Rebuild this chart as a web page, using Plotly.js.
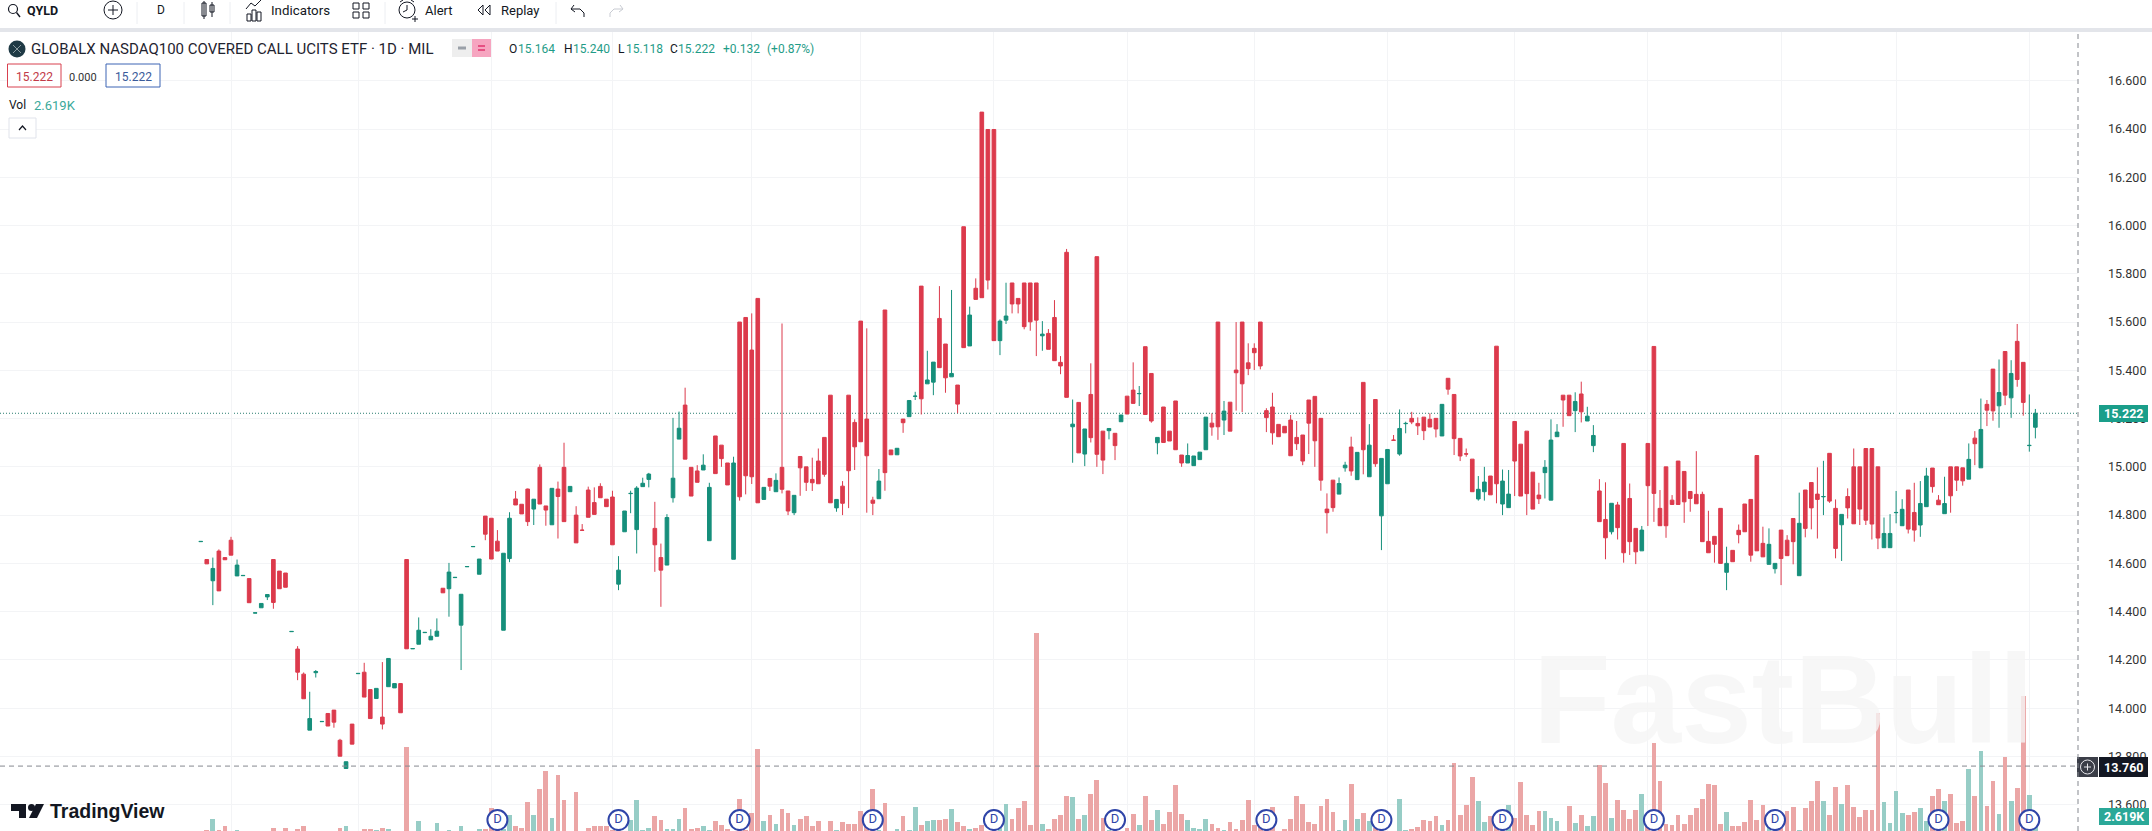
<!DOCTYPE html>
<html><head><meta charset="utf-8">
<script src="https://cdn.plot.ly/plotly-3.0.1.min.js"></script>
<style>html,body{margin:0;padding:0;background:#fff;overflow:hidden}#c{width:2152px;height:831px}</style>
</head><body><div id="c"></div>
<script>
const open_ = [
14.690,14.616,14.528,14.651,14.624,14.696,14.548,14.549,14.537,14.394,
14.416,14.461,14.616,14.568,14.56,14.317,14.245,14.141,13.909,14.147,
13.944,13.978,13.992,13.867,13.75,13.934,14.143,14.149,14.077,14.04,
13.963,14.089,14.084,14.102,14.616,14.246,14.265,14.313,14.283,14.298,
14.497,14.495,14.541,14.344,14.586,14.669,14.555,14.796,14.787,14.692,
14.323,14.62,14.867,14.845,14.908,14.825,14.998,14.838,14.76,14.908,
14.998,14.897,14.8,14.738,14.904,14.852,14.919,14.866,14.875,14.514,
14.731,14.889,14.74,14.918,14.948,14.745,14.624,14.593,14.872,15.115,
15.256,14.998,14.983,14.987,14.694,15.128,15.09,15.016,14.617,15.6,
15.619,15.484,15.698,14.865,14.952,14.897,14.998,14.9,14.81,15.043,
15.0,14.948,15.024,15.122,15.297,14.83,14.92,15.297,15.184,15.604,
15.198,14.862,14.868,15.65,15.07,15.05,15.198,15.208,15.292,15.749,
15.344,15.351,15.615,15.509,15.373,15.339,15.995,15.501,15.74,16.47,
16.398,16.398,15.523,15.608,15.762,15.698,15.762,15.762,15.762,15.543,
15.553,15.619,15.433,15.889,15.166,15.267,15.053,15.3,15.871,15.148,
15.15,15.139,15.187,15.293,15.318,15.303,15.498,15.387,15.1,15.248,
15.148,15.273,15.049,15.016,15.005,15.03,15.071,15.181,15.6,15.194,
15.268,15.401,15.6,15.431,15.491,15.6,15.233,15.248,15.176,15.168,
15.194,15.122,15.132,15.277,15.292,15.201,14.825,14.945,14.887,14.996,
15.082,14.947,15.35,14.959,15.279,14.797,14.93,15.111,15.053,15.179,
15.201,15.18,15.206,15.197,15.201,15.128,15.367,15.3,15.118,15.054,
15.032,14.867,14.897,14.962,15.5,14.846,14.831,15.188,15.094,15.148,
14.978,14.883,14.976,14.862,15.125,15.297,15.297,15.233,15.302,15.19,
15.088,14.9,14.782,14.731,14.842,15.097,14.869,14.745,14.652,15.097,
15.499,14.828,15.0,14.862,15.024,14.981,14.898,14.886,14.886,14.691,
14.712,14.828,14.563,14.654,14.737,14.846,14.865,15.047,14.683,14.596,
14.578,14.738,14.696,14.786,14.549,14.904,14.935,14.887,14.876,15.056,
14.828,14.76,14.877,15.0,15.0,15.076,15.076,15.0,14.665,14.665,
14.81,14.756,14.904,14.811,14.759,14.835,14.995,14.862,14.806,15.0,
15.0,14.996,14.949,15.119,14.996,15.259,15.405,15.253,15.478,15.286,
15.52,15.433,15.088,15.164];
const high_ = [
14.691,14.616,14.624,14.658,14.624,14.71,14.616,14.55,14.537,14.395,
14.434,14.471,14.616,14.568,14.56,14.318,14.257,14.148,14.068,14.158,
13.945,13.978,13.992,13.873,13.778,13.934,14.144,14.188,14.077,14.082,
14.191,14.206,14.102,14.102,14.616,14.247,14.376,14.314,14.327,14.372,
14.497,14.602,14.542,14.472,14.587,14.67,14.618,14.796,14.787,14.738,
14.642,14.812,14.9,14.845,14.91,14.866,15.01,14.838,14.911,14.939,
15.1,14.919,14.837,14.763,14.918,14.915,14.932,14.866,14.901,14.63,
14.817,14.901,14.92,14.955,14.975,14.855,14.682,14.804,15.203,15.229,
15.328,14.998,15.007,15.052,14.934,15.128,15.09,15.016,15.042,15.6,
15.619,15.636,15.698,14.915,14.952,14.973,15.594,14.9,14.882,15.043,
15.0,15.038,15.076,15.122,15.297,14.865,14.941,15.297,15.197,15.604,
15.574,14.876,14.991,15.65,15.07,15.077,15.198,15.275,15.311,15.749,
15.481,15.434,15.749,15.509,15.733,15.339,15.995,15.664,15.781,16.47,
16.398,16.398,15.611,15.763,15.762,15.698,15.762,15.762,15.762,15.604,
15.571,15.691,15.459,15.903,15.279,15.267,15.157,15.429,15.871,15.148,
15.159,15.139,15.215,15.293,15.433,15.335,15.498,15.387,15.122,15.248,
15.148,15.273,15.049,15.097,15.045,15.061,15.206,15.222,15.6,15.273,
15.268,15.6,15.6,15.512,15.512,15.6,15.243,15.307,15.176,15.168,
15.215,15.19,15.132,15.277,15.292,15.201,14.89,14.945,14.956,15.021,
15.125,15.06,15.35,15.177,15.279,15.035,15.072,15.132,15.238,15.187,
15.228,15.205,15.206,15.222,15.201,15.259,15.367,15.3,15.118,15.076,
15.032,14.962,15.0,14.962,15.5,14.989,14.987,15.188,15.094,15.148,
14.978,14.934,15.028,15.197,15.177,15.297,15.297,15.309,15.353,15.249,
15.173,14.949,14.936,14.849,14.855,15.097,14.931,14.745,14.755,15.097,
15.499,14.904,15.0,14.883,15.024,14.981,14.898,15.065,14.897,14.818,
14.712,14.828,14.669,14.654,14.761,14.846,14.865,15.047,14.752,14.745,
14.6,14.738,14.717,14.786,14.893,14.904,14.935,14.998,15.025,15.056,
14.865,14.803,14.911,15.076,15.0,15.076,15.076,15.0,14.79,14.804,
14.9,14.866,14.904,14.934,14.941,14.996,14.995,14.883,14.959,15.0,
15.0,14.996,15.097,15.148,15.283,15.277,15.405,15.445,15.478,15.442,
15.592,15.433,15.3,15.24];
const low_ = [
14.690,14.598,14.427,14.486,14.615,14.634,14.548,14.549,14.437,14.394,
14.416,14.448,14.412,14.495,14.501,14.317,14.116,14.039,13.909,14.127,
13.944,13.926,13.919,13.801,13.75,13.851,14.143,14.046,13.957,14.04,
13.912,14.089,14.084,13.981,14.246,14.246,14.265,14.313,14.283,14.298,
14.478,14.379,14.541,14.158,14.586,14.669,14.555,14.696,14.618,14.651,
14.323,14.605,14.842,14.805,14.755,14.759,14.846,14.756,14.76,14.703,
14.773,14.897,14.685,14.737,14.791,14.803,14.872,14.835,14.677,14.489,
14.731,14.808,14.641,14.918,14.915,14.565,14.42,14.593,14.852,15.115,
15.032,14.879,14.936,14.987,14.694,14.972,15.0,14.925,14.617,14.86,
14.886,14.929,14.851,14.865,14.9,14.897,14.89,14.8,14.8,14.88,
14.9,14.9,14.93,14.959,14.851,14.814,14.8,14.829,14.987,15.104,
14.81,14.8,14.868,14.901,15.05,15.05,15.141,15.208,15.277,15.217,
15.344,15.297,15.411,15.307,15.373,15.222,15.494,15.501,15.694,15.701,
15.735,15.523,15.463,15.592,15.636,15.636,15.57,15.564,15.459,15.481,
15.487,15.44,15.384,15.288,15.017,15.058,15.003,15.101,15.0,14.97,
15.114,15.028,15.187,15.219,15.263,15.252,15.217,15.183,15.052,15.101,
15.107,15.071,15.0,15.016,15.005,15.03,15.071,15.129,15.112,15.132,
15.148,15.233,15.227,15.38,15.401,15.404,15.144,15.092,15.125,15.141,
15.046,15.07,15.007,15.053,15.0,14.901,14.724,14.814,14.887,14.98,
14.963,14.947,14.969,14.959,15.0,14.655,14.93,15.11,15.046,15.139,
15.177,15.132,15.111,15.165,15.122,15.128,15.299,15.049,15.024,15.042,
14.897,14.86,14.86,14.884,14.849,14.8,14.831,14.879,14.879,14.8,
14.825,14.846,14.869,14.862,15.125,15.166,15.212,15.144,15.184,15.19,
15.061,14.773,14.617,14.72,14.699,14.603,14.635,14.597,14.652,14.755,
14.772,14.756,14.706,14.844,14.844,14.768,14.814,14.847,14.69,14.644,
14.603,14.6,14.489,14.607,14.683,14.731,14.607,14.652,14.627,14.596,
14.558,14.51,14.632,14.596,14.549,14.708,14.741,14.703,14.8,14.851,
14.621,14.61,14.786,14.764,14.759,14.759,14.699,14.659,14.665,14.665,
14.766,14.756,14.724,14.69,14.71,14.835,14.893,14.843,14.806,14.81,
14.9,14.922,14.949,15.007,14.996,15.169,15.191,15.162,15.256,15.203,
15.332,15.212,15.063,15.118];
const close_ = [
14.691,14.598,14.579,14.486,14.615,14.634,14.593,14.55,14.437,14.395,
14.434,14.471,14.438,14.495,14.501,14.318,14.149,14.039,13.957,14.152,
13.945,13.926,13.942,13.801,13.778,13.851,14.144,14.046,13.957,14.082,
13.934,14.206,14.102,13.981,14.246,14.247,14.323,14.314,14.298,14.319,
14.478,14.564,14.542,14.472,14.587,14.67,14.618,14.721,14.618,14.651,
14.642,14.787,14.842,14.805,14.773,14.866,14.846,14.821,14.911,14.877,
14.773,14.919,14.685,14.737,14.791,14.803,14.872,14.835,14.677,14.572,
14.817,14.89,14.912,14.932,14.97,14.677,14.572,14.79,14.953,15.16,
15.032,14.879,14.936,15.007,14.915,14.972,15.034,14.925,15.016,14.876,
14.963,14.959,14.851,14.915,14.92,14.944,14.907,14.817,14.882,14.996,
14.936,14.934,14.93,14.969,14.851,14.865,14.849,14.984,15.083,15.104,
15.046,14.849,14.941,14.976,15.05,15.077,15.183,15.275,15.293,15.282,
15.36,15.434,15.411,15.369,15.387,15.26,15.494,15.629,15.694,15.701,
15.774,15.523,15.604,15.625,15.675,15.675,15.581,15.601,15.608,15.55,
15.487,15.44,15.418,15.288,15.177,15.058,15.157,15.121,15.052,15.028,
15.159,15.088,15.215,15.219,15.263,15.304,15.217,15.19,15.122,15.101,
15.107,15.071,15.016,15.047,15.045,15.061,15.206,15.165,15.166,15.231,
15.148,15.39,15.344,15.407,15.473,15.418,15.204,15.141,15.125,15.141,
15.046,15.096,15.024,15.181,15.108,14.945,14.81,14.831,14.931,15.007,
14.983,15.06,15.071,15.09,15.013,15.035,15.072,15.11,15.159,15.18,
15.186,15.17,15.15,15.165,15.157,15.259,15.322,15.117,15.045,15.053,
14.897,14.907,14.937,14.884,14.93,14.941,14.887,15.024,14.879,14.889,
14.825,14.868,14.998,15.111,15.144,15.277,15.212,15.271,15.228,15.21,
15.13,14.773,14.706,14.849,14.748,14.644,14.69,14.648,14.738,14.922,
14.89,14.756,14.756,14.844,14.844,14.855,14.869,14.847,14.69,14.644,
14.679,14.6,14.6,14.607,14.719,14.731,14.634,14.652,14.627,14.679,
14.6,14.62,14.632,14.69,14.766,14.745,14.83,14.865,14.877,14.858,
14.662,14.803,14.83,14.764,14.825,14.779,14.763,14.705,14.724,14.724,
14.811,14.824,14.742,14.738,14.848,14.962,14.918,14.843,14.848,14.88,
14.945,14.942,15.031,15.096,15.155,15.235,15.232,15.308,15.297,15.387,
15.362,15.267,15.089,15.222];
const volume = [
.3,.58,1.22,.58,.8,.3,.58,.3,.3,.3,
.3,.3,.68,.3,.68,.3,.62,.8,.3,.3,
.3,.3,.3,.68,.8,.3,.3,.62,.62,.58,
.68,.62,.3,.3,5.39,.3,1.1,.3,.3,1.0,
.3,.58,.3,.8,.3,.3,.62,.62,1.84,.68,
.62,1.45,.8,.68,2.23,1.45,2.97,4.01,1.28,3.78,
2.33,.3,2.77,.45,.68,.8,.8,.8,.58,.7,
.5,1.16,2.33,.58,.68,1.4,1.16,.62,.62,1.2,
1.84,.62,.68,.8,.58,1.11,.87,.62,.5,2.38,
.6,1.55,5.29,1.11,1.45,.93,1.78,1.55,.87,1.2,
1.39,.8,1.11,.3,1.11,.58,1.05,.93,.93,1.67,
.9,2.97,.6,2.15,.3,.62,1.39,.58,1.92,.87,
1.11,1.14,1.16,1.21,1.8,1.05,.8,.62,.7,.87,
.5,.8,.7,2.09,1.21,1.84,2.27,.87,12.03,.93,
.62,1.24,1.45,2.56,2.5,1.24,1.45,2.67,3.49,1.26,
.6,.6,.5,.68,1.51,.87,2.56,1.16,1.73,.93,
1.63,3.22,1.51,1.16,.72,.64,1.21,.93,.72,.58,
1.05,.64,1.16,2.33,.87,.9,.8,1.92,.45,.62,
1.2,2.56,2.09,1.05,.95,1.98,2.38,1.63,.58,1.16,
3.26,1.21,1.59,1.11,.7,.6,.5,.55,2.38,.58,
.64,.75,1.16,1.11,1.39,.87,1.16,4.46,1.45,2.03,
3.66,2.27,1.05,1.39,.8,.7,2.03,1.26,3.37,1.45,
.85,1.69,1.69,1.26,1.11,.55,1.98,.97,1.45,.8,
1.39,4.34,3.31,1.26,2.33,1.74,1.21,1.74,2.67,.8,
5.62,3.41,.93,.87,1.45,.93,1.45,1.86,2.38,3.26,
3.2,.93,1.63,.8,.8,1.05,2.33,1.16,2.03,.9,
.7,.7,1.69,1.92,.58,1.86,2.27,3.45,2.27,1.45,
3.09,2.09,3.2,1.92,1.31,1.74,1.74,7.36,2.2,.97,
2.85,1.55,1.45,1.63,1.84,1.1,2.56,2.97,2.25,2.67,
1.0,1.1,4.15,2.56,5.18,2.0,3.41,1.49,4.8,2.25,
3.0,8.37,2.62,1.4];
const dividendBars = [49,69,89,111,131,151,176,195,215,240,260,287,302];
const monthStarts = [5,26,48,68,91,109,131,153,174,196,217,239,261,280,302];
const priceTicks = [13.6,13.8,14.0,14.2,14.4,14.6,14.8,15.0,15.2,15.4,15.6,15.8,16.0,16.2,16.4,16.6];
const lastPrice = 15.222, crossPrice = 13.76;

const W=2078, H=799, TOP=32;
const X=p=>p/W, Y=p=>(TOP+H-p)/H;
const FONT='Roboto, "Liberation Sans", sans-serif';
const RED='#dc3a4c', GREEN='#168f7b', VRED='#eba6a6', VGREEN='#97cdc6';
const idx=close_.map((_,i)=>i);
const anns=[], shapes=[];
function T(text,x,y,o={}){anns.push({text,xref:'paper',yref:'paper',x:X(x),y:Y(y),showarrow:false,
  xanchor:o.a||'left',yanchor:'middle',borderpad:0,
  font:{family:o.f||FONT,size:o.s||13,color:o.c||'#131722',weight:o.w||400}});}
function L(x0,y0,x1,y1,c='#131722',w=1){shapes.push({type:'line',xref:'paper',yref:'paper',x0:X(x0),y0:Y(y0),x1:X(x1),y1:Y(y1),line:{color:c,width:w}});}
function R(x0,y0,x1,y1,fill,line,w=1){shapes.push({type:'rect',xref:'paper',yref:'paper',x0:X(x0),y0:Y(y0),x1:X(x1),y1:Y(y1),fillcolor:fill||'rgba(0,0,0,0)',line:{color:line||'rgba(0,0,0,0)',width:line?w:0}});}
function C(cx,cy,r,fill,line,w=1){shapes.push({type:'circle',xref:'paper',yref:'paper',x0:X(cx-r),y0:Y(cy+r),x1:X(cx+r),y1:Y(cy-r),fillcolor:fill||'rgba(0,0,0,0)',line:{color:line||'rgba(0,0,0,0)',width:line?w:0}});}
function P(pts,fill,line,w=1,close=false){shapes.push({type:'path',xref:'paper',yref:'paper',path:'M'+pts.map(p=>X(p[0])+','+Y(p[1])).join('L')+(close?'Z':''),fillcolor:fill||'rgba(0,0,0,0)',line:{color:line||'rgba(0,0,0,0)',width:line?w:0}});}

/* toolbar */
R(0,28,2152,32,'#e3e5ea');
[137,184,230,385,556].forEach(x=>L(x,2,x,24,'#eceef2',1));
C(13,9,4.5,null,'#131722',1.2); L(16.5,12.5,20,17,'#131722',1.4);
T('QYLD',26,10,{s:12.5,w:700});
C(113,10,9,null,'#131722',1); L(108,10,118,10); L(113,5,113,15);
T('D',161,10,{s:12,a:'center'});
R(202,3,206,16,null,'#131722',1); L(204,1,204,19); R(210,5,214,12,null,'#131722',1); L(212,2,212,17);
R(247,14,251,21,null,'#131722',1); R(252,10,256,21,null,'#131722',1); R(257,12,261,21,null,'#131722',1);
P([[246,9],[251,3],[255,6],[261,0]],null,'#131722',1);
T('Indicators',270,10,{s:13.3});
R(353,3,359,9,null,'#131722',1); R(363,3,369,9,null,'#131722',1); R(353,12,359,18,null,'#131722',1); R(363,12,369,18,null,'#131722',1);
C(407,10,8,null,'#131722',1); L(407,5,407,10); L(407,10,403,12); L(400,2,403,0); L(414,2,411,0); L(412,19,418,19); L(415,16,415,22);
T('Alert',424,10,{s:13});
P([[483,5],[478,10],[483,15]],null,'#131722',1,true); P([[490,5],[485,10],[490,15]],null,'#131722',1,true);
T('Replay',500,10,{s:13});
P([[574,5],[571,9],[575,12]],null,'#131722',1); P([[571,9],[580,9],[584,13],[584,17]],null,'#131722',1);
P([[620,5],[623,9],[619,12]],null,'#c8cbd2',1); P([[623,9],[614,9],[610,13],[610,17]],null,'#c8cbd2',1);

/* legend */
C(17,49,8.5,'#1f3a45'); L(13,45,21,53,'#8a9aa0',1); L(13,53,21,45,'#8a9aa0',1);
T('GLOBALX NASDAQ100 COVERED CALL UCITS ETF · 1D · MIL',30,49,{s:15,c:'#1f2430'});
R(452,39,472,57,'#eeeeee'); R(472,39,491,57,'#f6a5c0');
L(458,48,466,48,'#9aa0a8',3); L(478,46,485,46,'#e0356e',1.5); L(478,50,485,50,'#e0356e',1.5);
const TG='#1f9c87';
[['O',508,'#131722'],['15.164',517,TG],['H',563,'#131722'],['15.240',572,TG],['L',617,'#131722'],['15.118',625,TG],['C',669,'#131722'],['15.222',677,TG],['+0.132',722,TG],['(+0.87%)',766,TG]]
 .forEach(a=>T(a[0],a[1],49,{s:12,c:a[2]}));
shapes.push({type:'rect',xref:'paper',yref:'paper',x0:X(7.5),y0:Y(87),x1:X(61),y1:Y(64),fillcolor:'#fff',line:{color:'#d8404f',width:1}});
T('15.222',34,77,{s:12,c:'#c23a48',a:'center'});
T('0.000',83,77,{s:11,a:'center',c:'#333'});
shapes.push({type:'rect',xref:'paper',yref:'paper',x0:X(106),y0:Y(87),x1:X(160),y1:Y(64),fillcolor:'#fff',line:{color:'#3c64b4',width:1}});
T('15.222',133,77,{s:12,c:'#3a5a9a',a:'center'});
T('Vol',8,105,{s:12});
T('2.619K',33,105,{s:13,c:'#3aa99a'});
R(9,118,36,138,'#fff','#e0e3eb',1);
P([[19,130],[22.5,126],[26,130]],null,'#131722',1.2);

/* TradingView logo */
P([[11,804],[26,804],[26,818],[19,818],[19,811],[11,811]],'#131722',null,0,true);
C(31.5,807.5,3.5,'#131722');
P([[36,804],[44,804],[37,818],[29,818]],'#131722',null,0,true);
T('TradingView',49,811,{s:19.5,w:700,f:'"Liberation Sans",sans-serif'});

/* price-scale tags */
R(2099,405,2148,422,'#1a9e8a');
T('15.222',2123.5,413.5,{s:12.5,c:'#fff',a:'center',w:700});
R(2077,757,2098,777,'#3b3e48');
C(2087.5,767,7,null,'#e8e8ec',1); L(2084,767,2091,767,'#e8e8ec',1); L(2087.5,763.5,2087.5,770.5,'#e8e8ec',1);
R(2099,757,2148,777,'#131722');
T('13.760',2123.5,767,{s:12.5,c:'#fff',a:'center',w:700});
R(2099,808,2149,825,'#2ba898');
T('2.619K',2124,816.5,{s:12.5,c:'#fff',a:'center',w:700});

/* crosshair and last-price lines */
shapes.push({type:'line',xref:'paper',yref:'y',x0:0,x1:1,y0:lastPrice,y1:lastPrice,layer:'below',line:{color:'#2a7d70',width:1,dash:'1px,2px'}});
shapes.push({type:'line',xref:'paper',yref:'y',x0:0,x1:1,y0:crossPrice,y1:crossPrice,line:{color:'#85888f',width:1,dash:'5px,4px'}});
shapes.push({type:'line',xref:'paper',yref:'paper',x0:1,x1:1,y0:0,y1:1,line:{color:'#85888f',width:1,dash:'5px,4px'}});

/* watermark */
anns.push({text:'FastBull',xref:'paper',yref:'paper',x:X(1531),y:Y(699),xanchor:'left',yanchor:'middle',showarrow:false,
  font:{family:'"Liberation Sans",sans-serif',size:127,weight:700,color:'rgba(245,245,245,0.8)'}});

const candles={type:'candlestick',x:idx,open:open_,high:high_,low:low_,close:close_,xaxis:'x',yaxis:'y',
  increasing:{line:{color:GREEN,width:1},fillcolor:GREEN},decreasing:{line:{color:RED,width:1},fillcolor:RED},
  whiskerwidth:0,showlegend:false,hoverinfo:'skip'};
const vols={type:'bar',x:idx,y:volume,xaxis:'x',yaxis:'y2',width:0.78,
  marker:{color:idx.map(i=>close_[i]>=open_[i]?VGREEN:VRED),line:{width:0}},showlegend:false,hoverinfo:'skip'};
const divs={type:'scatter',mode:'markers+text',x:dividendBars,y:dividendBars.map(()=>1.16),xaxis:'x',yaxis:'y2',
  text:dividendBars.map(()=>'D'),textposition:'middle center',textfont:{family:FONT,size:13,color:'#2f45a8'},cliponaxis:false,
  marker:{size:20,color:'#fff',line:{color:'#2f45a8',width:2}},showlegend:false,hoverinfo:'skip'};

const layout={width:2152,height:831,margin:{l:0,r:74,t:32,b:0,pad:0},paper_bgcolor:'#fff',plot_bgcolor:'#fff',
  boxgap:0.4,boxgroupgap:0,bargap:0,showlegend:false,hovermode:false,dragmode:false,
  xaxis:{range:[-33.15,310.04],tickvals:monthStarts,showticklabels:false,ticks:'',showgrid:true,gridcolor:'#f3f4f6',gridwidth:1,zeroline:false,showline:false,rangeslider:{visible:false},fixedrange:true},
  yaxis:{range:[13.491,16.802],side:'right',tickvals:priceTicks,tickformat:'.3f',ticks:'',ticklen:0,ticklabelstandoff:29,showgrid:true,gridcolor:'#f3f4f6',gridwidth:1,zeroline:false,showline:false,fixedrange:true,
    tickfont:{family:FONT,size:12.5,color:'#333'}},
  yaxis2:{range:[0.523,46.98],overlaying:'y',side:'right',showgrid:false,showticklabels:false,ticks:'',zeroline:false,showline:false,fixedrange:true},
  shapes,annotations:anns};
Plotly.newPlot('c',[vols,candles,divs],layout,{displayModeBar:false,staticPlot:true});
</script></body></html>
